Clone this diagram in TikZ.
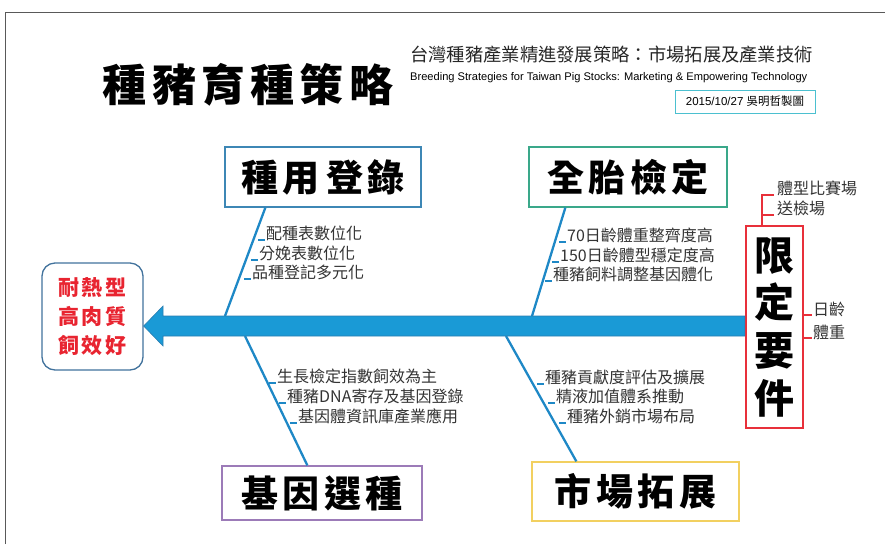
\documentclass[tikz,border=0pt]{standalone}
\usepackage{fontspec}
\usepackage{xcolor}
\setmainfont{Liberation Sans}
\newfontfamily\cjk{Noto Sans CJK TC}
\newfontfamily\cjkhead{Noto Sans CJK TC}[LetterSpace=12]

\definecolor{spineblue}{HTML}{1A9AD6}
\definecolor{spineedge}{HTML}{2A7DB0}
\definecolor{boneblue}{HTML}{1E88C6}
\definecolor{regblue}{HTML}{3D87B5}
\definecolor{fullgreen}{HTML}{3AA88A}
\definecolor{genepurple}{HTML}{9C7BB8}
\definecolor{mktgold}{HTML}{F2D060}
\definecolor{limitred}{HTML}{E8303A}
\definecolor{headedge}{HTML}{41729C}
\definecolor{headred}{HTML}{E82430}
\definecolor{datecyan}{HTML}{4BC0D0}

\begin{document}
\begin{tikzpicture}[x=1pt, y=-1pt,
    every node/.style={inner sep=0pt},
    bonebox/.style={draw, line width=1.3pt, fill=white,
        font=\cjkhead\bfseries\fontsize{37}{37}\selectfont},
    item/.style={anchor=base west, text=black!80,
        font=\cjk\fontsize{16}{16}\selectfont},
    btick/.style={boneblue, line width=1.8pt},
    rline/.style={limitred, line width=1.8pt},
    bone/.style={boneblue, line width=2.3pt}]
    \useasboundingbox (0,0) rectangle (885,544);

    % Frame
    \draw[black!65, line width=1pt] (5.5,544) -- (5.5,12.5) -- (885,12.5);

    % Titles
    \node[font=\cjkhead\bfseries\fontsize{44}{44}\selectfont] (title) at (248,85) {種豬育種策略};
    \node[anchor=west, text=black!85, font=\cjk\fontsize{18.3}{19}\selectfont] (subzh) at (410,55)
        {台灣種豬產業精進發展策略：市場拓展及產業技術};
    \node[anchor=west, font=\fontsize{11.1}{12}\selectfont] (suben) at (410,78)
        {Breeding Strategies for Taiwan Pig Stocks: Marketing \& Empowering Technology};
    \node[draw=datecyan, line width=1pt, minimum width=140pt, minimum height=23pt,
        font=\fontsize{11.5}{12}\selectfont] (date) at (745,101.5) {2015/10/27 {\cjk 吳明哲製圖}};

    % Head
    \node[draw=headedge, line width=1.3pt, rounded corners=13pt, minimum width=101pt,
        minimum height=107pt, align=center, text=headred,
        font=\cjkhead\bfseries\fontsize{21}{29}\selectfont] (head) at (92.5,316.5)
        {耐熱型\\高肉質\\飼效好};

    % Bone boxes
    \node[bonebox, draw=regblue, minimum width=196pt, minimum height=60pt] (reg) at (323,177) {種用\,登錄};
    \node[bonebox, draw=fullgreen, minimum width=198pt, minimum height=60pt] (full) at (628,177) {全胎檢定};
    \node[bonebox, draw=genepurple, minimum width=200pt, minimum height=54pt] (gene) at (322,493) {基因選種};
    \node[bonebox, draw=mktgold, minimum width=207pt, minimum height=59pt] (mkt) at (635.5,491.5) {市場拓展};

    % Limit box
    \node[draw=limitred, line width=2.4pt, fill=white, minimum width=57pt, minimum height=202pt,
        align=center, font=\cjkhead\bfseries\fontsize{40}{47.7}\selectfont] (limit) at (774.5,327)
        {限\\定\\要\\件};

    % Bones
    \coordinate (jReg) at (225,316);
    \coordinate (jFull) at (532,316);
    \coordinate (jGene) at (245,336);
    \coordinate (jMkt) at (506,336);
    \draw[bone] ([xshift=41pt]reg.south west) -- (jReg);
    \draw[bone] ([xshift=37pt]full.south west) -- (jFull);
    \draw[bone] ([xshift=86pt]gene.north west) -- (jGene);
    \draw[bone] ([xshift=45pt]mkt.north west) -- (jMkt);

    % Spine arrow
    \draw[fill=spineblue, draw=spineedge, line width=0.6pt]
        (limit.west |- jReg) -- (163,316) -- (163,306) -- (head.east |- 0,326)
        -- (163,346) -- (163,336) -- (limit.west |- jMkt) -- cycle;

    % Items
    \foreach \x/\y/\t [count=\i] in {266/239/配種表數位化, 259/259/分娩表數位化, 252/278/品種登記多元化} {
        \node[item] (reg\i) at (\x,\y) {\t};
        \draw[btick] (reg\i.base west) ++(-8,1) -- ++(7,0);
    }
    \foreach \x/\y/\t [count=\i] in {567/241/70日齡體重整齊度高, 560/261/150日齡體型穩定度高, 553/280/種豬飼料調整基因體化} {
        \node[item] (full\i) at (\x,\y) {\t};
        \draw[btick] (full\i.base west) ++(-8,1) -- ++(7,0);
    }
    \foreach \x/\y/\t [count=\i] in {277/382/生長檢定指數飼效為主, 287/402/種豬DNA寄存及基因登錄, 298/422/基因體資訊庫產業應用} {
        \node[item] (gene\i) at (\x,\y) {\t};
        \draw[btick] (gene\i.base west) ++(-8,1) -- ++(7,0);
    }
    \foreach \x/\y/\t [count=\i] in {545/383/種豬貢獻度評估及擴展, 556/402/精液加值體系推動, 567/422/種豬外銷市場布局} {
        \node[item] (mkt\i) at (\x,\y) {\t};
        \draw[btick] (mkt\i.base west) ++(-8,1) -- ++(7,0);
    }

    % Limit items
    \node[item] (limA) at (777,194) {體型比賽場};
    \node[item] (limB) at (777,214) {送檢場};
    \node[item] (limC) at (813,315) {日齡};
    \node[item] (limD) at (813,338) {體重};
    \draw[rline] ([xshift=17pt]limit.north west) |- ([xshift=-3pt,yshift=-1pt]limA.base west);
    \draw[rline] ([xshift=-14pt,yshift=-1pt]limB.base west) -- ([xshift=-3pt,yshift=-1pt]limB.base west);
    \draw[rline] (limit.east |- limC.base west) -- ([xshift=-1pt]limC.base west);
    \draw[rline] (limit.east |- limD.base west) -- ([xshift=-1pt]limD.base west);
\end{tikzpicture}
\end{document}
